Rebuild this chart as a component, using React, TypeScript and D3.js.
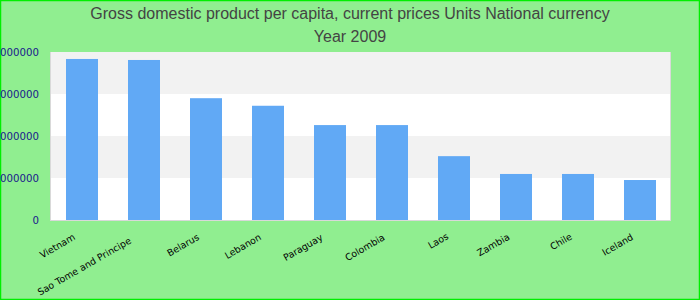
import React from "react";
import * as d3 from "d3";

const categories = [
  "Vietnam",
  "Sao Tome and Principe",
  "Belarus",
  "Lebanon",
  "Paraguay",
  "Colombia",
  "Laos",
  "Zambia",
  "Chile",
  "Iceland",
];
const values = [
  19170000, 19050000, 14500000, 13600000, 11300000, 11300000, 7600000, 5480000, 5480000, 4760000,
];
const yTicks = [0, 5000000, 10000000, 15000000, 20000000];
const titleLines = ["Gross domestic product per capita, current prices Units National currency", "Year 2009"];

export default function App() {
  const W = 700;
  const H = 300;
  const left = 50;
  const right = 670;
  const top = 52;
  const bottom = 220;

  const x = d3.scaleBand<string>().domain(categories).range([left + 1, right + 1]).paddingInner(0.484).paddingOuter(0.242);
  const y = d3.scaleLinear().domain([0, 20000000]).range([bottom, top]);

  const bands = yTicks.slice(0, -1).map((t, i) => ({ y0: y(yTicks[i + 1]), y1: y(t), fill: i % 2 === 0 ? "#ffffff" : "#f2f2f2" }));

  return (
    <svg width={W} height={H} style={{ position: "absolute", left: 0, top: 0, display: "block" }}>
      <rect x={0.5} y={0.5} width={W - 1} height={H - 1} fill="#90ee90" stroke="#00ee00" strokeWidth={1.5} />
      {titleLines.map((t, i) => (
        <text key={i} x={350} y={19 + i * 23} textAnchor="middle" fontFamily="Liberation Sans, Arial, sans-serif" fontSize={16} fill="#444444">
          {t}
        </text>
      ))}
      {bands.map((b, i) => (
        <rect key={i} x={left} y={b.y0} width={right - left} height={b.y1 - b.y0} fill={b.fill} />
      ))}
      <line x1={left + 0.5} x2={left + 0.5} y1={top} y2={bottom} stroke="#d9d9d9" />
      <line x1={right + 0.5} x2={right + 0.5} y1={top} y2={bottom} stroke="#d9d9d9" />
      <line x1={left} x2={right + 1} y1={bottom + 0.5} y2={bottom + 0.5} stroke="#d9d9d9" />
      {categories.map((c, i) => (
        <rect key={c} x={x(c)} y={y(values[i])} width={x.bandwidth()} height={bottom - y(values[i])} fill="#61a9f5" />
      ))}
      {yTicks.map((t) => (
        <text key={t} x={39} y={y(t)} dy="0.35em" textAnchor="end" fontFamily="DejaVu Sans, Verdana, sans-serif" fontSize={10.2} fill="#1a1a8c">
          {t}
        </text>
      ))}
      {categories.map((c) => {
        const cx = (x(c) as number) + x.bandwidth() / 2;
        return (
          <text key={c} transform={`translate(${cx - 3},${237.3}) rotate(-30)`} dx={-0.5 * c.length} textAnchor="end" fontFamily="DejaVu Sans, Verdana, sans-serif" fontSize={9.4} fill="#000000">
            {c}
          </text>
        );
      })}
    </svg>
  );
}
